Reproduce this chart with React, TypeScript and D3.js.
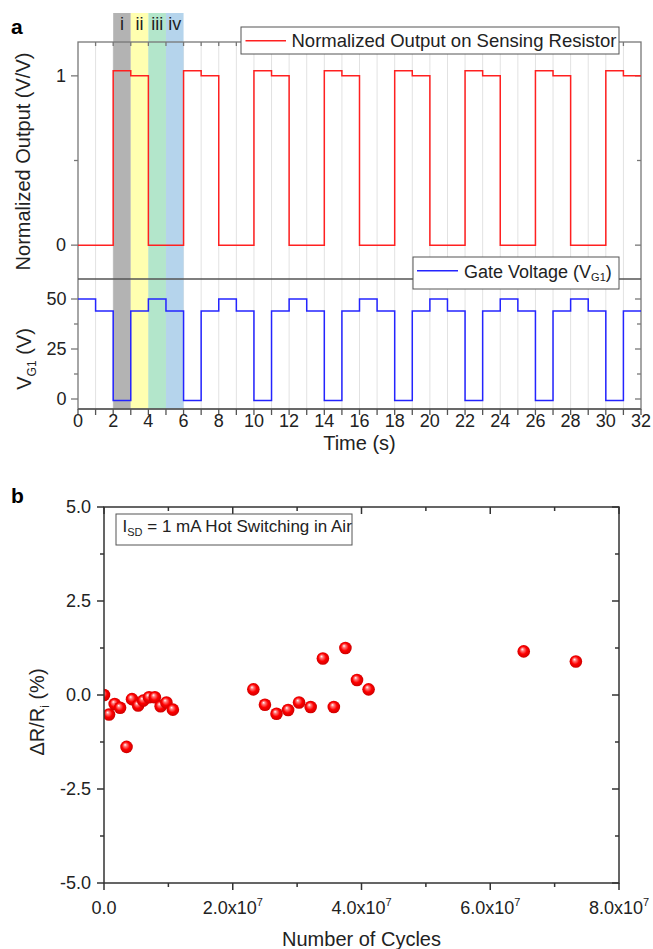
import React from 'react';
import * as d3 from 'd3';

// panel a: one level per second, t = 0..31
const outputLevels = [
  0, 0, 1.03, 1.0, 0, 0, 1.03, 1.0, 0, 0, 1.03, 1.0, 0, 0, 1.03, 1.0,
  0, 0, 1.03, 1.0, 0, 0, 1.03, 1.0, 0, 0, 1.03, 1.0, 0, 0, 1.03, 1.0,
];
const gateLevels = [
  50, 44, -0.8, 44, 50, 44, -0.8, 44, 50, 44, -0.8, 44, 50, 44, -0.8, 44,
  50, 44, -0.8, 44, 50, 44, -0.8, 44, 50, 44, -0.8, 44, 50, 44, -0.8, 44,
];
const phaseLabels = ['i', 'ii', 'iii', 'iv'];
const phaseColors = ['#b3b3b3', '#ffffb0', '#b3e6cb', '#b5d4ec'];
const phaseStart = [2, 3, 4, 5];
const timeTicks = d3.range(0, 33, 1);
const outTicks = [0, 1];
const outMinor = [0.5];
const gateTicks = [0, 25, 50];
const gateMinor = [12.5, 37.5];

// panel b
const cycles = [
  0, 0.78e6, 1.66e6, 2.5e6, 3.5e6, 4.35e6, 5.3e6, 6.1e6, 7.0e6, 7.9e6, 8.8e6, 9.7e6, 1.07e7,
  2.32e7, 2.5e7, 2.68e7, 2.86e7, 3.03e7, 3.21e7, 3.4e7, 3.57e7, 3.75e7, 3.93e7, 4.11e7,
  6.52e7, 7.33e7,
];
const deltaR = [
  0, -0.52, -0.24, -0.34, -1.38, -0.11, -0.28, -0.15, -0.06, -0.06, -0.3, -0.2, -0.39,
  0.15, -0.26, -0.5, -0.4, -0.2, -0.32, 0.97, -0.32, 1.25, 0.4, 0.15,
  1.16, 0.89,
];
const cycleTicks = [0, 2e7, 4e7, 6e7, 8e7];
const cycleMinor = [1e7, 3e7, 5e7, 7e7];
const drTicks = [-5, -2.5, 0, 2.5, 5];
const drMinor = [-3.75, -1.25, 1.25, 3.75];

const font = 'Liberation Sans, Arial, sans-serif';

const App = () => {
  const xT = d3.scaleLinear().domain([0, 32]).range([78, 641]);
  const yOut = d3.scaleLinear().domain([-0.2, 1.2]).range([279, 42]);
  const yGate = d3.scaleLinear().domain([-5, 60]).range([409, 279]);

  const xC = d3.scaleLinear().domain([0, 8e7]).range([104, 619]);
  const yR = d3.scaleLinear().domain([-5, 5]).range([883, 507]);

  const toPts = (levels: number[]) => {
    const pts: [number, number][] = levels.map((v, i) => [i, v]);
    pts.push([levels.length, levels[levels.length - 1]]);
    return pts;
  };
  const outLine = d3.line<[number, number]>()
    .x(d => xT(d[0])).y(d => yOut(d[1])).curve(d3.curveStepAfter);
  const gateLine = d3.line<[number, number]>()
    .x(d => xT(d[0])).y(d => yGate(d[1])).curve(d3.curveStepAfter);

  const frameA = '#777';
  const frameB = '#333';

  return (
    <svg width={653} height={949} style={{ position: 'absolute', left: 0, top: 0 }} fontFamily={font}>
      <defs>
        <radialGradient id="ball" cx="50%" cy="50%" r="55%" fx="38%" fy="32%">
          <stop offset="0%" stopColor="#ffffff" />
          <stop offset="22%" stopColor="#ff7a7a" />
          <stop offset="55%" stopColor="#ff0000" />
          <stop offset="100%" stopColor="#c40000" />
        </radialGradient>
        <clipPath id="clipB">
          <rect x={xC(0)} y={yR(5)} width={xC(8e7) - xC(0)} height={yR(-5) - yR(5)} />
        </clipPath>
      </defs>

      {/* ---------- panel a ---------- */}
      <text x={11} y={33.5} fontSize={21} fontWeight="bold">a</text>

      {timeTicks.filter(t => t > 0 && t < 32).map(t =>
        <line key={`g-${t}`} x1={xT(t)} x2={xT(t)} y1={42} y2={409} stroke="#e2e2e2" strokeWidth={1} />
      )}

      {phaseStart.map((s, i) =>
        <g key={`ph-${i}`}>
          <rect x={xT(s)} y={13} width={xT(s + 1) - xT(s)} height={409 - 13} fill={phaseColors[i]} />
          <text x={xT(s + 0.5)} y={30} fontSize={18} textAnchor="middle" fill="#222">{phaseLabels[i]}</text>
        </g>
      )}

      {/* frame */}
      <rect x={xT(0)} y={42} width={xT(32) - xT(0)} height={409 - 42} fill="none" stroke={frameA} strokeWidth={1.3} />
      <line x1={xT(0)} x2={xT(32)} y1={279} y2={279} stroke="#555" strokeWidth={1.3} />
      <line x1={xT(0)} x2={xT(32)} y1={409} y2={409} stroke="#555" strokeWidth={1.3} />

      {/* time ticks */}
      {timeTicks.map(t =>
        <g key={`tt-${t}`}>
          <line x1={xT(t)} x2={xT(t)} y1={409} y2={415} stroke="#555" strokeWidth={1.3} />
          {t > 0 && t < 32 && <line x1={xT(t)} x2={xT(t)} y1={42} y2={46} stroke={frameA} strokeWidth={1.3} />}
          {t % 2 === 0 && <text x={xT(t)} y={427} fontSize={18} textAnchor="middle" fill="#222">{t}</text>}
        </g>
      )}
      <text x={xT(16)} y={450} fontSize={20} textAnchor="middle" fill="#222">Time (s)</text>

      {/* output y axis */}
      {outTicks.map(v =>
        <g key={`ot-${v}`}>
          <line x1={71} x2={78} y1={yOut(v)} y2={yOut(v)} stroke={frameA} strokeWidth={1.3} />
          <line x1={641} x2={635} y1={yOut(v)} y2={yOut(v)} stroke={frameA} strokeWidth={1.3} />
          <text x={66} y={yOut(v) + 6} fontSize={18} textAnchor="end" fill="#222">{v}</text>
        </g>
      )}
      {outMinor.map(v =>
        <g key={`om-${v}`}>
          <line x1={74} x2={78} y1={yOut(v)} y2={yOut(v)} stroke={frameA} strokeWidth={1.3} />
          <line x1={641} x2={637} y1={yOut(v)} y2={yOut(v)} stroke={frameA} strokeWidth={1.3} />
        </g>
      )}
      <text transform={`translate(29.5, ${(yOut(1.2) + yOut(-0.2)) / 2 + 1}) rotate(-90)`} fontSize={20} textAnchor="middle" fill="#222">
        Normalized Output (V/V)
      </text>

      {/* gate y axis */}
      {gateTicks.map(v =>
        <g key={`gt-${v}`}>
          <line x1={71} x2={78} y1={yGate(v)} y2={yGate(v)} stroke={frameA} strokeWidth={1.3} />
          <line x1={641} x2={635} y1={yGate(v)} y2={yGate(v)} stroke={frameA} strokeWidth={1.3} />
          <text x={66.5} y={yGate(v) + 6} fontSize={18} textAnchor="end" fill="#222">{v}</text>
        </g>
      )}
      {gateMinor.map(v =>
        <g key={`gm-${v}`}>
          <line x1={74} x2={78} y1={yGate(v)} y2={yGate(v)} stroke={frameA} strokeWidth={1.3} />
          <line x1={641} x2={637} y1={yGate(v)} y2={yGate(v)} stroke={frameA} strokeWidth={1.3} />
        </g>
      )}
      <text transform={`translate(31, 359) rotate(-90)`} fontSize={20} textAnchor="middle" fill="#222">
        V<tspan fontSize={12} dy={5}>G1</tspan><tspan dy={-5}> (V)</tspan>
      </text>

      {/* signals */}
      <path d={outLine(toPts(outputLevels)) || ''} fill="none" stroke="#ff2020" strokeWidth={1.5} />
      <path d={gateLine(toPts(gateLevels)) || ''} fill="none" stroke="#2424ff" strokeWidth={1.5} />

      {/* legends */}
      <rect x={241} y={27} width={378} height={27} fill="#fff" stroke="#555" strokeWidth={1} />
      <line x1={245.5} x2={286} y1={40.7} y2={40.7} stroke="#ff2020" strokeWidth={1.5} />
      <text x={291.5} y={46.5} fontSize={18.5} fill="#222">Normalized Output on Sensing Resistor</text>

      <rect x={413} y={257} width={206} height={32} fill="#fff" stroke="#555" strokeWidth={1} />
      <line x1={417} x2={458} y1={270.7} y2={270.7} stroke="#2424ff" strokeWidth={1.5} />
      <text x={464} y={277.7} fontSize={18} fill="#222">
        Gate Voltage (V<tspan fontSize={11} dy={3}>G1</tspan><tspan dy={-3}>)</tspan>
      </text>

      {/* ---------- panel b ---------- */}
      <text x={11} y={503} fontSize={21} fontWeight="bold">b</text>

      <g clipPath="url(#clipB)">
        {cycles.map((c, i) =>
          <circle key={`pt-${i}`} cx={xC(c)} cy={yR(deltaR[i])} r={6.3} fill="url(#ball)" />
        )}
      </g>

      <rect x={xC(0)} y={yR(5)} width={xC(8e7) - xC(0)} height={yR(-5) - yR(5)} fill="none" stroke={frameB} strokeWidth={1.5} />

      {cycleTicks.map(c =>
        <g key={`ct-${c}`}>
          <line x1={xC(c)} x2={xC(c)} y1={883} y2={890} stroke={frameB} strokeWidth={1.5} />
          <line x1={xC(c)} x2={xC(c)} y1={507} y2={514} stroke={frameB} strokeWidth={1.5} />
          <text x={xC(c)} y={914} fontSize={18} textAnchor="middle" fill="#222">
            {c === 0 ? '0.0' : <>{(c / 1e7).toFixed(1)}x10<tspan fontSize={11} dy={-8}>7</tspan></>}
          </text>
        </g>
      )}
      {cycleMinor.map(c =>
        <g key={`cm-${c}`}>
          <line x1={xC(c)} x2={xC(c)} y1={883} y2={887} stroke={frameB} strokeWidth={1.5} />
          <line x1={xC(c)} x2={xC(c)} y1={507} y2={511} stroke={frameB} strokeWidth={1.5} />
        </g>
      )}
      <text x={(xC(0) + xC(8e7)) / 2} y={946} fontSize={20} textAnchor="middle" fill="#222">Number of Cycles</text>

      {drTicks.map(v =>
        <g key={`rt-${v}`}>
          <line x1={97} x2={104} y1={yR(v)} y2={yR(v)} stroke={frameB} strokeWidth={1.5} />
          <line x1={619} x2={612} y1={yR(v)} y2={yR(v)} stroke={frameB} strokeWidth={1.5} />
          <text x={91} y={yR(v) + 6} fontSize={18} textAnchor="end" fill="#222">{v.toFixed(1)}</text>
        </g>
      )}
      {drMinor.map(v =>
        <g key={`rm-${v}`}>
          <line x1={100} x2={104} y1={yR(v)} y2={yR(v)} stroke={frameB} strokeWidth={1.5} />
          <line x1={619} x2={615} y1={yR(v)} y2={yR(v)} stroke={frameB} strokeWidth={1.5} />
        </g>
      )}
      <text transform={`translate(44, 712) rotate(-90)`} fontSize={20} textAnchor="middle" fill="#222">
        ΔR/R<tspan fontSize={12} dy={5}>i</tspan><tspan dy={-5}> (%)</tspan>
      </text>

      <rect x={116} y={514} width={236} height={31} fill="#fff" stroke="#555" strokeWidth={1} />
      <text x={122.5} y={531.7} fontSize={17} fill="#222">
        I<tspan fontSize={11} dy={4}>SD</tspan><tspan dy={-4}> = 1 mA Hot Switching in Air</tspan>
      </text>
    </svg>
  );
};

export default App;
